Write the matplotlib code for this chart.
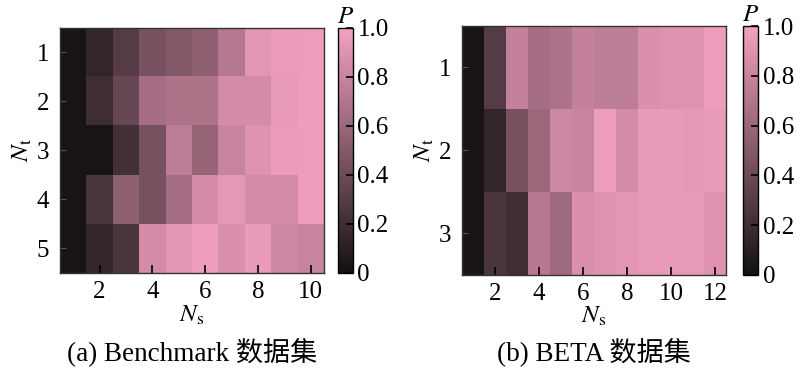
import numpy as np
import matplotlib
matplotlib.use('Agg')
import matplotlib.pyplot as plt
from matplotlib.colors import LinearSegmentedColormap

plt.rcParams['font.family'] = ['Liberation Serif', 'Noto Sans CJK SC']
plt.rcParams['mathtext.fontset'] = 'stix'

# 数据: 行 = N_t, 列 = N_s
benchNs = np.arange(1, 11)
benchNt = np.arange(1, 6)
benchP = np.array([
    [0.03, 0.15, 0.30, 0.45, 0.50, 0.55, 0.72, 0.92, 0.96, 0.97],
    [0.03, 0.20, 0.38, 0.65, 0.68, 0.68, 0.85, 0.85, 0.95, 0.97],
    [0.03, 0.03, 0.22, 0.45, 0.75, 0.58, 0.80, 0.90, 0.96, 0.97],
    [0.03, 0.25, 0.55, 0.45, 0.65, 0.85, 0.93, 0.85, 0.85, 0.97],
    [0.03, 0.15, 0.25, 0.85, 0.92, 0.97, 0.88, 0.95, 0.82, 0.80],
])

betaNs = np.arange(1, 13)
betaNt = np.arange(1, 4)
betaP = np.array([
    [0.03, 0.30, 0.78, 0.65, 0.68, 0.78, 0.75, 0.75, 0.88, 0.90, 0.90, 0.97],
    [0.03, 0.15, 0.45, 0.60, 0.82, 0.80, 0.97, 0.85, 0.95, 0.95, 0.93, 0.95],
    [0.03, 0.25, 0.20, 0.72, 0.62, 0.88, 0.90, 0.92, 0.95, 0.95, 0.95, 0.90],
])

cmap = LinearSegmentedColormap.from_list(
    'blackpink', ['#121111', '#f5a1c2'])

FS = 18


def drawPanel(fig, axRect, cbRect, data, ns, nt, xticks, caption):
    ax = fig.add_axes(axRect)
    im = ax.imshow(data, cmap=cmap, vmin=0, vmax=1, aspect='auto',
                   interpolation='nearest',
                   extent=(ns[0] - 0.5, ns[-1] + 0.5, nt[-1] + 0.5, nt[0] - 0.5))
    ax.set_xticks(xticks)
    ax.set_yticks(nt)
    ax.tick_params(axis='x', direction='in', length=6, width=1.2,
                   labelsize=FS, pad=6)
    ax.tick_params(axis='y', direction='in', length=4, width=0.8,
                   color='#555555', labelsize=FS, pad=8)
    ax.set_xlabel(r'$N_{\mathrm{s}}$', fontsize=FS, labelpad=0)
    ax.set_ylabel(r'$N_{\mathrm{t}}$', fontsize=FS, labelpad=2)
    for s in ax.spines.values():
        s.set_linewidth(1.0)
        s.set_color('#333333')

    cax = fig.add_axes(cbRect)
    cb = fig.colorbar(im, cax=cax, ticks=[0, 0.2, 0.4, 0.6, 0.8, 1.0])
    cb.ax.set_yticklabels(['0', '0.2', '0.4', '0.6', '0.8', '1.0'])
    cb.ax.tick_params(direction='in', length=5, width=1.2, labelsize=FS,
                      pad=3)
    cb.outline.set_linewidth(1.0)
    cb.ax.set_title(r'$P$', fontsize=FS, pad=-2)

    fig.text(axRect[0] + axRect[2] / 2, 0.03, caption, fontsize=19.5,
             ha='center', va='bottom')
    return ax


fig = plt.figure(figsize=(8, 3.77), dpi=100)
drawPanel(fig, [0.075, 0.276, 0.33, 0.650], [0.4225, 0.276, 0.019, 0.650],
          benchP, benchNs, benchNt, [2, 4, 6, 8, 10], '(a) Benchmark 数据集')
drawPanel(fig, [0.5775, 0.271, 0.33, 0.660], [0.929, 0.271, 0.019, 0.660],
          betaP, betaNs, betaNt, [2, 4, 6, 8, 10, 12], '(b) BETA 数据集')

fig.savefig('out.png', dpi=100)
